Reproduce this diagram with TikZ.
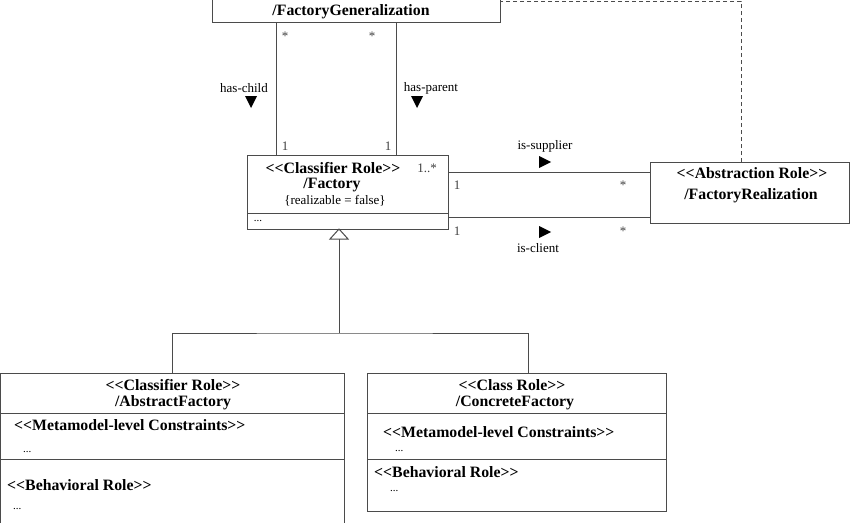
\documentclass[tikz,border=0pt]{standalone}
\usepackage{fontspec}
\setmainfont{Liberation Serif}
\usetikzlibrary{calc}
\definecolor{linec}{RGB}{75,75,75}
\newcommand{\stL}{<{}<}
\newcommand{\stR}{>{}>}
\begin{document}
\begin{tikzpicture}[x=1pt,y=-1pt,
  box/.style={draw=linec, line width=1pt, fill=white, inner sep=0pt, outer sep=0pt, anchor=north west},
  conn/.style={draw=linec, line width=1pt},
  sep/.style={draw=linec, line width=1pt},
  ttl/.style={font=\fontsize{15.8}{18}\selectfont\bfseries, inner sep=0pt},
  lbl/.style={font=\fontsize{13}{15}\selectfont, inner sep=0pt},
  mult/.style={font=\fontsize{13}{15}\selectfont, inner sep=0pt, text=black!75},
  dots/.style={font=\fontsize{11}{13}\selectfont, inner sep=0pt},
  rolearrow/.style={fill=black, draw=none}]
\useasboundingbox (0,0) rectangle (850,522);
\clip (0,0) rectangle (850,522);

% boxes
\node[box, minimum width=288pt, minimum height=42pt] (gen) at (212,-20) {};
\node[box, minimum width=201pt, minimum height=74pt] (fac) at (247,155) {};
\node[box, minimum width=199pt, minimum height=61pt] (abs) at (650,162) {};
\node[box, minimum width=344pt, minimum height=170pt] (af) at (0.5,373) {};
\node[box, minimum width=299pt, minimum height=138pt] (cf) at (367.5,373) {};

% compartments
\draw[sep] ([yshift=-58pt]fac.north west) -- ([yshift=-58pt]fac.north east);
\draw[sep] ([yshift=-40pt]af.north west) -- ([yshift=-40pt]af.north east);
\draw[sep] ([yshift=-86pt]af.north west) -- ([yshift=-86pt]af.north east);
\draw[sep] ([yshift=-40pt]cf.north west) -- ([yshift=-40pt]cf.north east);
\draw[sep] ([yshift=-86pt]cf.north west) -- ([yshift=-86pt]cf.north east);

% texts
\node[ttl] (genname) at (351,12) {/FactoryGeneralization};

\node[ttl] (facst) at (333,168) {\stL Classifier Role\stR};
\node[ttl] (facname) at (332,185) {/Factory};
\node[lbl] (faccons) at (335,201) {\{realizable = false\}};
\node[dots] (facdots) at (258,221) {...};

\node[ttl] (absst) at (752,173) {\stL Abstraction Role\stR};
\node[ttl] (absname) at (751,196) {/FactoryRealization};

\node[ttl] (afst) at (173,385) {\stL Classifier Role\stR};
\node[ttl] (afname) at (173,403) {/AbstractFactory};
\node[ttl, anchor=west] (afmeta) at (14,425) {\stL Metamodel-level Constraints\stR};
\node[dots, anchor=west] (afdots1) at (23,452) {...};
\node[ttl, anchor=west] (afbeh) at (7,485) {\stL Behavioral Role\stR};
\node[dots, anchor=west] (afdots2) at (13,509) {...};

\node[ttl] (cfst) at (512,385) {\stL Class Role\stR};
\node[ttl] (cfname) at (515,403) {/ConcreteFactory};
\node[ttl, anchor=west] (cfmeta) at (383,432) {\stL Metamodel-level Constraints\stR};
\node[dots, anchor=west] (cfdots1) at (395,451) {...};
\node[ttl, anchor=west] (cfbeh) at (374,472) {\stL Behavioral Role\stR};
\node[dots, anchor=west] (cfdots2) at (390,491) {...};

% has-child / has-parent
\draw[conn] ([xshift=64pt]gen.south west) -- ([xshift=29pt]fac.north west);
\draw[conn] ([xshift=184pt]gen.south west) -- ([xshift=149pt]fac.north west);
\node[mult] (m1) at (285,36) {*};
\node[mult] (m2) at (372,36) {*};
\node[mult] (m3) at (285,146) {1};
\node[mult] (m4) at (388,146) {1};
\node[lbl] (hc) at (244,88) {has-child};
\node[lbl] (hp) at (431,88) {has-parent};
\path[rolearrow] (245,96) -- (257,96) -- (251,108) -- cycle;
\path[rolearrow] (411,96) -- (423,96) -- (417,108) -- cycle;
\node[mult] (m5) at (427,168) {1..*};

% is-supplier / is-client
\draw[conn] ([yshift=-17pt]fac.north east) -- ([yshift=-10pt]abs.north west);
\draw[conn] ([yshift=-62pt]fac.north east) -- ([yshift=-55pt]abs.north west);
\node[lbl] (sup) at (545,146) {is-supplier};
\node[lbl] (cli) at (538,248) {is-client};
\path[rolearrow] (539,156) -- (551,162) -- (539,168) -- cycle;
\path[rolearrow] (539,226) -- (551,232) -- (539,238) -- cycle;
\node[mult] (m6) at (457,185) {1};
\node[mult] (m7) at (623,185) {*};
\node[mult] (m8) at (457,231) {1};
\node[mult] (m9) at (623,231) {*};

% realization (dashed)
\coordinate (d1) at (741,1);
\draw[conn, dash pattern=on 4pt off 3pt] ([xshift=91pt]abs.north west) -- (d1) -- (d1 -| gen.east);

% generalization
\coordinate (apex) at ([xshift=92pt]fac.south west);
\coordinate (tb) at ($(apex)+(0,10)$);
\coordinate (j) at (339,333);
\draw[conn] (tb) -- (j);
\draw[conn] ([xshift=172pt]af.north west) |- (j) -| ([xshift=161pt]cf.north west);
\draw[conn, fill=white] (apex) -- ($(apex)+(-9,10)$) -- ($(apex)+(9,10)$) -- cycle;
\end{tikzpicture}
\end{document}
